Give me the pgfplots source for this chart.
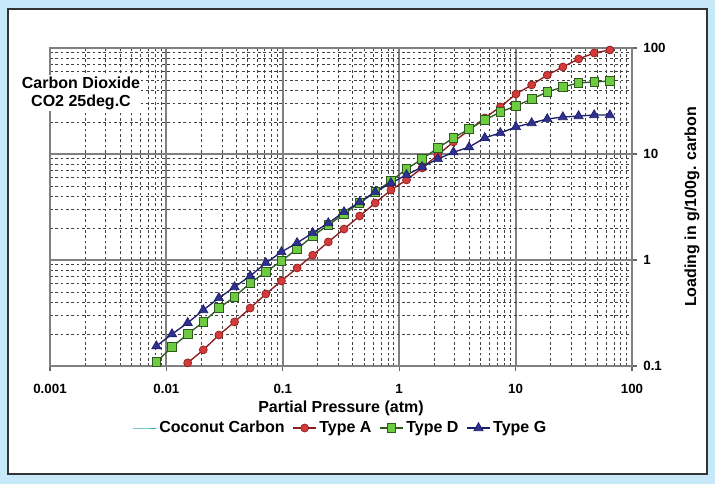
\documentclass[border=0pt]{standalone}
\usepackage{fontspec}
\setmainfont{Liberation Sans}
\usepackage{pgfplots}
\usepackage{pgfplotstable}
\pgfplotsset{compat=1.18}

\definecolor{bgblue}{HTML}{C6E8F8}
\definecolor{redfill}{HTML}{D43A3A}
\definecolor{redline}{HTML}{8B1C1C}
\definecolor{greenfill}{HTML}{6CCB3E}
\definecolor{greenline}{HTML}{2E5A22}
\definecolor{bluefill}{HTML}{2F3190}
\definecolor{blueline}{HTML}{1E1E6A}
\definecolor{coco}{HTML}{33A9A9}

% x: partial pressure (atm), y: loading (g/100g carbon)
\pgfplotstableread{
x y
0.01524 0.107
0.02075 0.142
0.02826 0.196
0.03849 0.260
0.05245 0.352
0.07145 0.478
0.09733 0.634
0.1327 0.841
0.1807 1.11
0.2461 1.48
0.3357 1.96
0.4571 2.60
0.6223 3.45
0.8492 4.57
1.156 5.69
1.574 7.38
2.148 9.79
2.924 13.0
3.981 16.8
5.433 21.9
7.396 27.8
10.07 36.8
13.74 44.8
18.71 55.6
25.47 66.2
34.75 78.8
47.32 89.7
64.57 95.8
}\typeA

\pgfplotstableread{
x y
0.0082 0.109
0.01117 0.151
0.01524 0.200
0.02075 0.260
0.02826 0.352
0.03849 0.448
0.05245 0.607
0.07145 0.771
0.09733 0.979
0.1327 1.27
0.1807 1.68
0.2461 2.14
0.3357 2.72
0.4571 3.45
0.6223 4.38
0.8492 5.56
1.156 7.22
1.574 8.97
2.148 11.4
2.924 14.2
3.981 17.2
5.433 20.9
7.396 24.9
10.07 28.4
13.74 33.0
18.71 38.5
25.47 42.9
34.75 46.8
47.32 47.8
64.57 48.8
}\typeD

\pgfplotstableread{
x y
0.0082 0.154
0.01117 0.200
0.01524 0.255
0.02075 0.337
0.02826 0.438
0.03849 0.556
0.05245 0.706
0.07145 0.937
0.09733 1.19
0.1327 1.45
0.1807 1.80
0.2461 2.23
0.3357 2.84
0.4571 3.52
0.6223 4.38
0.8492 5.32
1.156 6.34
1.574 7.54
2.148 8.97
2.924 10.4
3.981 11.6
5.433 14.2
7.396 15.8
10.07 18.0
13.74 19.6
18.71 21.4
25.47 22.3
34.75 22.8
47.32 23.3
64.57 23.3
}\typeG

\begin{document}
\begin{tikzpicture}
\fill[bgblue] (0,0) rectangle (536.25pt,363pt);
\filldraw[fill=white, draw=black!80, line width=1.5pt] (6pt,7.5pt) rectangle (530.25pt,356.25pt);
\begin{axis}[
  at={(37.5pt,88.5pt)}, anchor=south west,
  scale only axis, width=436.5pt, height=238.5pt,
  xmode=log, ymode=log,
  xmin=0.001, xmax=100, ymin=0.1, ymax=100,
  xtick={0.001,0.01,0.1,1,10,100},
  xticklabels={0.001,0.01,0.1,1,10,100},
  ytick={0.1,1,10,100},
  yticklabels={0.1,1,10,100},
  minor xtick={0.002,0.003,0.004,0.005,0.006,0.007,0.008,0.009,
    0.02,0.03,0.04,0.05,0.06,0.07,0.08,0.09,
    0.2,0.3,0.4,0.5,0.6,0.7,0.8,0.9,
    2,3,4,5,6,7,8,9,20,30,40,50,60,70,80,90},
  minor ytick={0.2,0.3,0.4,0.5,0.6,0.7,0.8,0.9,
    2,3,4,5,6,7,8,9,20,30,40,50,60,70,80,90},
  xtick pos=left, ytick pos=right, yticklabel pos=right,
  tick align=outside, major tick length=4pt, minor tick length=0pt,
  tick style={black!60, line width=1pt},
  grid=both,
  major grid style={black!50, line width=1.5pt},
  minor grid style={black!75, line width=0.6pt, dash pattern=on 2pt off 2pt},
  axis line style={black!50, line width=1.5pt},
  ticklabel style={font=\bfseries\fontsize{10}{12}\selectfont},
  xticklabel style={yshift=-6pt},
  yticklabel style={xshift=1pt},
  xlabel={Partial Pressure (atm)},
  ylabel={Loading in g/100g. carbon},
  label style={font=\bfseries\fontsize{12}{14}\selectfont},
  xlabel style={at={(axis description cs:0.5,-0.132)}, anchor=center},
  ylabel style={at={(axis description cs:1.103,0.5)}, anchor=center},
  legend columns=4,
  legend style={at={(0.5,-0.195)}, anchor=center, draw=none, fill=none,
    font=\bfseries\fontsize{12}{14}\selectfont,
    /tikz/every even column/.append style={column sep=4pt}},
  legend cell align=left,
]
\addlegendimage{coco, line width=0.6pt}
\addlegendentry{Coconut Carbon}
\addplot[redline, line width=1pt, mark=*, mark size=3pt,
  mark options={fill=redfill, draw=redline, line width=0.5pt}] table {\typeA};
\addlegendentry{Type A}
\addplot[greenline, line width=1pt, mark=square*, mark size=3.2pt,
  mark options={fill=greenfill, draw=greenline, line width=0.6pt}] table {\typeD};
\addlegendentry{Type D}
\addplot[blueline, line width=1pt, mark=triangle*, mark size=4pt,
  mark options={fill=bluefill, draw=blueline, line width=0.5pt}] table {\typeG};
\addlegendentry{Type G}
\end{axis}
\node[fill=white, inner sep=1pt, align=center,
  font=\bfseries\fontsize{12}{13.5}\selectfont] at (60.75pt,293.25pt)
  {Carbon Dioxide\\CO2 25deg.C};
\end{tikzpicture}
\end{document}
